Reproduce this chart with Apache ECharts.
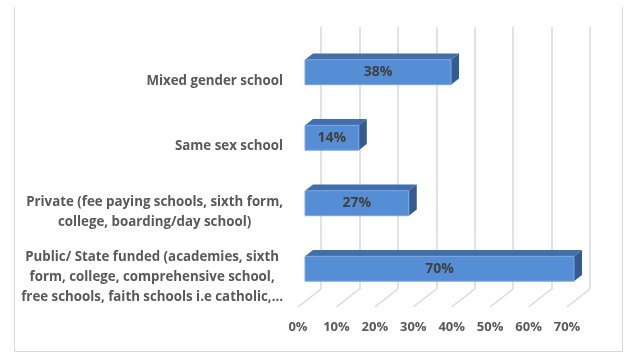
<!DOCTYPE html>
<html>
<head>
<meta charset="utf-8">
<script src="https://cdn.jsdelivr.net/npm/echarts@6/dist/echarts.min.js"></script>
<style>html,body{margin:0;padding:0;background:#fff}#c{width:624px;height:354px}</style>
</head>
<body>
<div id="c"></div>
<script>
const categories = [
  'Mixed gender school',
  'Same sex school',
  'Private (fee paying schools, sixth form,\ncollege, boarding/day school)',
  'Public/ State funded (academies, sixth\nform, college, comprehensive school,\nfree schools, faith schools i.e catholic,\u2026'
];
const values = [38, 14, 27, 70];
const xTicks = [0, 10, 20, 30, 40, 50, 60, 70];

const FONT = 'Open Sans';
const LABEL_FONT = 'bold 13.3px "' + FONT + '"';
const chart = echarts.init(document.getElementById('c'), null, {renderer: 'canvas'});

const measureCtx = document.createElement('canvas').getContext('2d');
measureCtx.font = LABEL_FONT;
function blockWidth(s) {
  return Math.max.apply(null, s.split('\n').map(l => measureCtx.measureText(l).width));
}

// perspective offsets (pixels) relative to back wall
const FLOOR_DX = -23, FLOOR_DY = 18;
const FRONT_DX = -16, FRONT_DY = 12.5;
const BACK_DX = -8, BACK_DY = 6.3;

const option = {
  animation: false,
  backgroundColor: '#fff',
  grid: [
    {left: 321, top: 27, width: 269, height: 262},
    {left: 298, top: 45, width: 269, height: 262}
  ],
  xAxis: [
    {gridIndex: 0, type: 'value', min: 0, max: 70, interval: 10,
     axisLine: {show: false}, axisTick: {show: false}, axisLabel: {show: false},
     splitLine: {show: true, lineStyle: {color: '#d9d9d9', width: 1.5}}},
    {gridIndex: 1, type: 'value', min: 0, max: 70, interval: 10,
     axisLine: {show: false}, axisTick: {show: false}, splitLine: {show: false},
     axisLabel: {margin: 14, formatter: '{value}%', color: '#595959', fontFamily: FONT, fontWeight: 'bold', fontSize: 13}}
  ],
  yAxis: [
    {gridIndex: 0, type: 'category', data: categories, inverse: true,
     axisLine: {show: false}, axisTick: {show: false}, axisLabel: {show: false}, splitLine: {show: false}},
    {gridIndex: 1, type: 'category', data: categories, inverse: true,
     axisLine: {show: false}, axisTick: {show: false}, splitLine: {show: false}, axisLabel: {show: false}}
  ],
  series: [
    {
      type: 'custom', xAxisIndex: 0, yAxisIndex: 0, z: 1, silent: true,
      data: xTicks.map(v => [v]),
      renderItem: function (params, api) {
        const cs = params.coordSys;
        const x = api.coord([api.value(0), 0])[0];
        const yb = cs.y + cs.height;
        return {type: 'line', shape: {x1: x, y1: yb, x2: x + FLOOR_DX, y2: yb + FLOOR_DY},
          style: {stroke: '#d9d9d9', lineWidth: 1.5}};
      }
    },
    {
      type: 'custom', xAxisIndex: 1, yAxisIndex: 1, z: 3, silent: true,
      data: categories.map((c, i) => [0, i]),
      renderItem: function (params, api) {
        const i = api.value(1);
        const p = api.coord([0, i]);
        const txt = categories[i];
        const w = blockWidth(txt);
        return {type: 'text', x: p[0] - 15 - w / 2, y: p[1] + 3,
          style: {text: txt, fill: '#595959', font: LABEL_FONT, align: 'center', verticalAlign: 'middle', lineHeight: 20}};
      }
    },
    {
      type: 'custom', xAxisIndex: 0, yAxisIndex: 0, z: 5, silent: true,
      data: values.map((v, i) => [v, i]),
      renderItem: function (params, api) {
        const v = api.value(0), i = api.value(1);
        const p1 = api.coord([v, i]);
        const p0 = api.coord([0, i]);
        const band = api.size([0, 1])[1];
        const h = band * 0.19;
        const x0 = p0[0], x1 = p1[0], yc = p1[1];
        const fT = yc + FRONT_DY - h, fB = yc + FRONT_DY + h;
        const bT = yc + BACK_DY - h, bB = yc + BACK_DY + h;
        return {type: 'group', children: [
          {type: 'polygon', shape: {points: [[x0 + FRONT_DX, fT], [x1 + FRONT_DX, fT], [x1 + BACK_DX, bT], [x0 + BACK_DX, bT]]},
           style: {fill: '#426fab'}},
          {type: 'polygon', shape: {points: [[x1 + FRONT_DX, fT], [x1 + BACK_DX, bT], [x1 + BACK_DX, bB], [x1 + FRONT_DX, fB]]},
           style: {fill: '#355c90'}},
          {type: 'rect', shape: {x: x0 + FRONT_DX, y: fT, width: x1 - x0, height: fB - fT},
           style: {fill: '#558ed5', stroke: '#7aa7e2', lineWidth: 1}},
          {type: 'text', x: x0 + FRONT_DX + (x1 - x0) / 2, y: yc + FRONT_DY,
           style: {text: v + '%', fill: '#404040', font: 'bold 14px "' + FONT + '"', align: 'center', verticalAlign: 'middle'}}
        ]};
      }
    }
  ],
  graphic: [
    {type: 'polyline', silent: true, shape: {points: [[14.5, 7], [14.5, 351.5], [622.5, 351.5], [622.5, 7]]},
     style: {stroke: '#d9d9d9', lineWidth: 1, fill: null}}
  ]
};
chart.setOption(option);
</script>
</body>
</html>
